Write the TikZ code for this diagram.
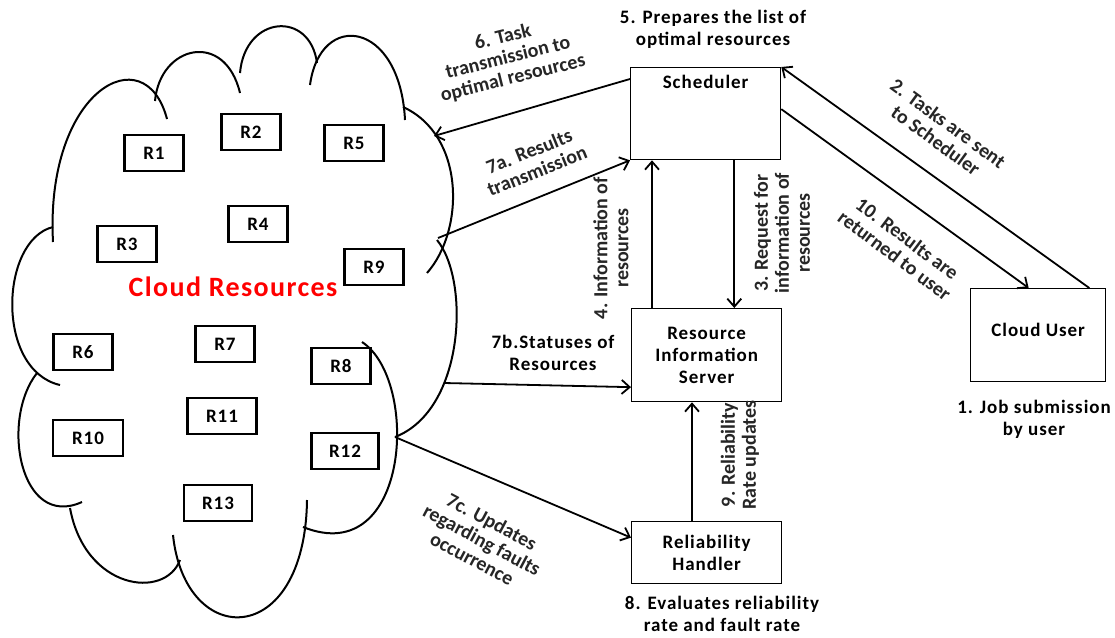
\documentclass[tikz,border=0pt]{standalone}
\usepackage{fontspec}
\setmainfont{Carlito}[LetterSpace=5]
\newfontfamily\plainfont{Carlito}
\usetikzlibrary{arrows.meta,positioning}

\begin{document}
\begin{tikzpicture}[x=1pt,y=-1pt,
	font=\fontsize{19}{22}\selectfont\bfseries,
	box/.style={draw, line width=1.3pt, align=center, inner sep=0pt},
	res/.style={draw, line width=2.2pt, minimum width=59pt, minimum height=36pt, inner sep=0pt},
	flow/.style={line width=1.8pt, -{Straight Barb[length=8pt,width=14pt,line width=1.8pt]}},
	note/.style={align=center, inner sep=0pt},
	turned/.style={align=center, inner sep=0pt, text=black!85, font=\fontsize{20}{21}\selectfont\plainfont\bfseries},
	cloudline/.style={line width=2pt}]
	\fill[white] (0,0) rectangle (1115,637);
	\useasboundingbox (0,0) rectangle (1115,637);
	% cloud of resources
	\draw[cloudline] (53,242) .. controls (45,90) and (145,35) .. (167,119);
	\draw[cloudline] (155,101) .. controls (160,45) and (225,30) .. (240,93);
	\draw[cloudline] (240,73) .. controls (245,15) and (310,10) .. (317,63);
	\draw[cloudline] (310,85) .. controls (320,10) and (400,20) .. (405,120);
	\draw[cloudline] (403,107) .. controls (465,135) and (465,230) .. (427,273);
	\draw[cloudline] (437,240) .. controls (470,280) and (465,410) .. (395,437);
	\draw[cloudline] (362,342) .. controls (420,380) and (410,570) .. (303,527);
	\draw[cloudline] (307,500) .. controls (305,650) and (185,650) .. (173,535);
	\draw[cloudline] (70,508) .. controls (85,590) and (165,600) .. (180,560);
	\draw[cloudline] (37,373) .. controls (0,420) and (20,530) .. (82,502);
	\draw[cloudline] (53,227) .. controls (0,240) and (-5,370) .. (60,385);
	\coordinate (c6) at (434,136);
	\coordinate (c7a) at (438,238);
	\coordinate (c7b) at (444,383);
	\coordinate (c7c) at (395,437);
	% resources
	\node[res] (r1) at (154,153) {R1};
	\node[res] (r2) at (251,132) {R2};
	\node[res] (r5) at (354,143) {R5};
	\node[res] (r3) at (127,244) {R3};
	\node[res] (r4) at (258,224) {R4};
	\node[res] (r9) at (374,267) {R9};
	\node[res] (r6) at (83,352) {R6};
	\node[res] (r7) at (225,344) {R7};
	\node[res] (r8) at (341,366) {R8};
	\node[res, minimum width=70pt] (r10) at (88,438) {R10};
	\node[res, minimum width=69pt] (r11) at (222,416) {R11};
	\node[res, minimum width=67pt] (r12) at (345,451) {R12};
	\node[res, minimum width=68pt] (r13) at (218,503) {R13};
	\node[text=red, font=\fontsize{28}{30}\selectfont\bfseries] (cloudtxt) at (233,287) {Cloud Resources};
	% components
	\node[box, minimum width=150pt, minimum height=92pt, anchor=north west] (sched) at (630,67) {};
	\node[below=4.4pt of sched.north] (schedtxt) {Scheduler};
	\node[box, minimum width=150pt, minimum height=93pt, anchor=north west] (ris) at (631,308) {Resource\\Information\\Server};
	\node[box, minimum width=150pt, minimum height=62pt, anchor=north west] (rh) at (631,521) {Reliability\\Handler};
	\node[box, minimum width=135pt, minimum height=93pt, anchor=north west] (user) at (970,288) {};
	\node[yshift=5pt] (usertxt) at (user) {Cloud User};
	% connectors
	\draw[flow] ([xshift=-17pt]user.north east) -- (sched.north east);
	\draw[flow] ([yshift=4.5pt]sched.east) -- ([xshift=-9.5pt]user.north);
	\draw[flow] ([yshift=-12pt]sched.north west) -- (c6);
	\draw[flow] (c7a) -- (sched.south west);
	\draw[flow] ([xshift=21pt]ris.north west) -- ([xshift=22pt]sched.south west);
	\draw[flow] ([xshift=-47pt]sched.south east) -- ([xshift=-48pt]ris.north east);
	\draw[flow] (c7b) -- ([yshift=-32pt]ris.west);
	\draw[flow] (c7c) -- ([yshift=15pt]rh.west);
	\draw[flow] ([xshift=61pt]rh.north west) -- ([xshift=61pt]ris.south west);
	% descriptions
	\node[note] (n5) at (713,29) {5. Prepares the list of\\optimal resources};
	\node[note] (n1) at (1034,419) {1. Job submission\\by user};
	\node[note] (n8) at (722,614) {8. Evaluates reliability\\rate and fault rate};
	\node[note] (n7b) at (553,353) {7b.Statuses of\\Resources};
	\node[turned, rotate=14] (n6) at (508,58) {6. Task\\transmission to\\optimal resources};
	\node[turned, rotate=22] (n7a) at (533,161) {7a. Results\\transmission};
	\node[turned, rotate=-36] (n2) at (942,132) {2. Tasks are sent\\to Scheduler};
	\node[turned, rotate=-37] (n10) at (901,247) {10. Results are\\returned to user};
	\node[turned, rotate=-28] (n7c) at (482,540) {7c. Updates\\regarding faults\\occurrence};
	\node[turned, rotate=90] (n4) at (611,248) {4. Information of\\resources};
	\node[turned, rotate=90] (n3) at (782,233) {3. Request for\\information of\\resources};
	\node[turned, rotate=90] (n9) at (740,455) {9. Reliability\\Rate updates};
\end{tikzpicture}
\end{document}
